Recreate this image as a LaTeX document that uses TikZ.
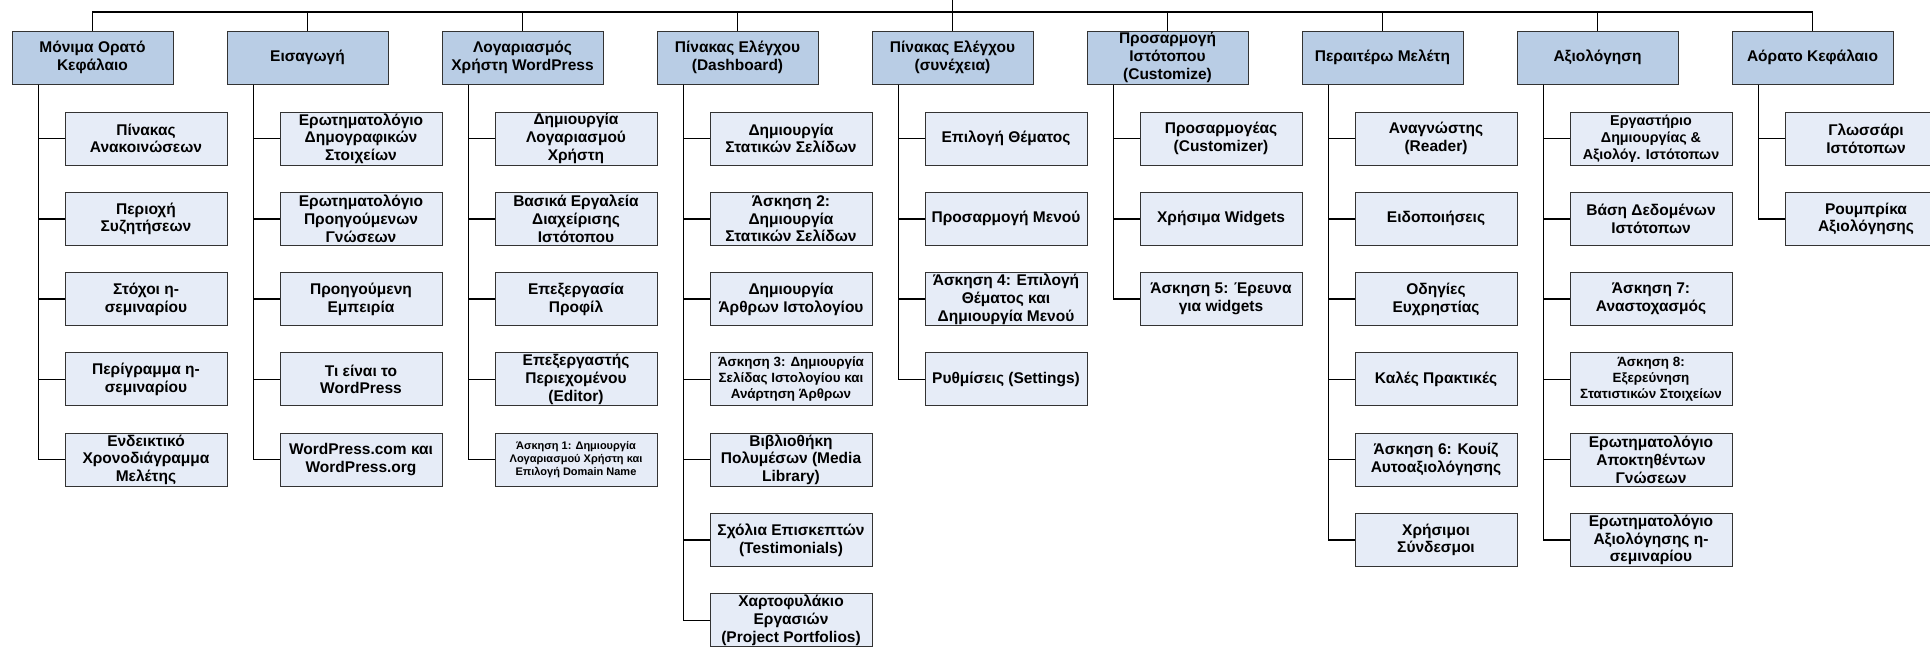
\documentclass[tikz,border=0pt]{standalone}
\usepackage{fontspec}
\setmainfont{Liberation Sans}
\definecolor{headblue}{HTML}{B9CDE5}
\definecolor{itemblue}{HTML}{E6ECF7}
\tikzset{
	chapbox/.style={draw=black!80, line width=1pt, fill=headblue, minimum width=161pt, minimum height=53pt, inner sep=1pt, align=center, font=\fontsize{15.5}{17.7}\selectfont\bfseries},
	topicbox/.style={chapbox, fill=itemblue, minimum width=162pt},
	midtext/.style={font=\fontsize{14.3}{17}\selectfont\bfseries},
	smalltext/.style={font=\fontsize{13.4}{16}\selectfont\bfseries},
	tinytext/.style={font=\fontsize{11}{13.3}\selectfont\bfseries},
	link/.style={line width=1.5pt}
}
\begin{document}
\begin{tikzpicture}[x=1pt,y=-1pt]
	\useasboundingbox (0,0) rectangle (1930,646) ;
	\coordinate (root) at (952.5,0) ;
	\coordinate (bus) at (0,12) ;
	% chapters
	\node [chapbox] (p0) at (92.5,57.5) {Μόνιμα Ορατό\\Κεφάλαιο} ;
	\node [chapbox] (p1) at (307.5,57.5) {Εισαγωγή} ;
	\node [chapbox] (p2) at (522.5,57.5) {Λογαριασμός\\Χρήστη WordPress} ;
	\node [chapbox] (p3) at (737.5,57.5) {Πίνακας Ελέγχου\\(Dashboard)} ;
	\node [chapbox] (p4) at (952.5,57.5) {Πίνακας Ελέγχου\\(συνέχεια)} ;
	\node [chapbox] (p5) at (1167.5,57.5) {Προσαρμογή\\Ιστότοπου\\(Customize)} ;
	\node [chapbox] (p6) at (1382.5,57.5) {Περαιτέρω Μελέτη} ;
	\node [chapbox] (p7) at (1597.5,57.5) {Αξιολόγηση} ;
	\node [chapbox] (p8) at (1812.5,57.5) {Αόρατο Κεφάλαιο} ;
	\draw [link] (root) -- (p4.north) ;
	\draw [link] (p0.north) -- (p0.north |- bus) -- (p8.north |- bus) -- (p8.north) ;
	\draw [link] (p1.north) -- (p1.north |- bus) ;
	\draw [link] (p2.north) -- (p2.north |- bus) ;
	\draw [link] (p3.north) -- (p3.north |- bus) ;
	\draw [link] (p5.north) -- (p5.north |- bus) ;
	\draw [link] (p6.north) -- (p6.north |- bus) ;
	\draw [link] (p7.north) -- (p7.north |- bus) ;
	% topics
	\node [topicbox] (p0a) at (146,138.5) {Πίνακας\\Ανακοινώσεων} ;
	\node [topicbox] (p0b) at (146,218.8) {Περιοχή\\Συζητήσεων} ;
	\node [topicbox] (p0c) at (146,299.1) {Στόχοι η-\\σεμιναρίου} ;
	\node [topicbox] (p0d) at (146,379.4) {Περίγραμμα η-\\σεμιναρίου} ;
	\node [topicbox] (p0e) at (146,459.7) {Ενδεικτικό\\Χρονοδιάγραμμα\\Μελέτης} ;
	\node [topicbox] (p1a) at (361,138.5) {Ερωτηματολόγιο\\Δημογραφικών\\Στοιχείων} ;
	\node [topicbox] (p1b) at (361,218.8) {Ερωτηματολόγιο\\Προηγούμενων\\Γνώσεων} ;
	\node [topicbox] (p1c) at (361,299.1) {Προηγούμενη\\Εμπειρία} ;
	\node [topicbox] (p1d) at (361,379.4) {Τι είναι το\\WordPress} ;
	\node [topicbox] (p1e) at (361,459.7) {WordPress.com και\\WordPress.org} ;
	\node [topicbox] (p2a) at (576,138.5) {Δημιουργία\\Λογαριασμού\\Χρήστη} ;
	\node [topicbox] (p2b) at (576,218.8) {Βασικά Εργαλεία\\Διαχείρισης\\Ιστότοπου} ;
	\node [topicbox] (p2c) at (576,299.1) {Επεξεργασία\\Προφίλ} ;
	\node [topicbox] (p2d) at (576,379.4) {Επεξεργαστής\\Περιεχομένου\\(Editor)} ;
	\node [topicbox,tinytext] (p2e) at (576,459.7) {Άσκηση 1: Δημιουργία\\Λογαριασμού Χρήστη και\\Επιλογή Domain Name} ;
	\node [topicbox] (p3a) at (791,138.5) {Δημιουργία\\Στατικών Σελίδων} ;
	\node [topicbox] (p3b) at (791,218.8) {Άσκηση 2:\\Δημιουργία\\Στατικών Σελίδων} ;
	\node [topicbox] (p3c) at (791,299.1) {Δημιουργία\\Άρθρων Ιστολογίου} ;
	\node [topicbox,smalltext] (p3d) at (791,379.4) {Άσκηση 3: Δημιουργία\\Σελίδας Ιστολογίου και\\Ανάρτηση Άρθρων} ;
	\node [topicbox] (p3e) at (791,459.7) {Βιβλιοθήκη\\Πολυμέσων (Media\\Library)} ;
	\node [topicbox] (p3f) at (791,540) {Σχόλια Επισκεπτών\\(Testimonials)} ;
	\node [topicbox] (p3g) at (791,620.3) {Χαρτοφυλάκιο\\Εργασιών\\(Project Portfolios)} ;
	\node [topicbox] (p4a) at (1006,138.5) {Επιλογή Θέματος} ;
	\node [topicbox] (p4b) at (1006,218.8) {Προσαρμογή Μενού} ;
	\node [topicbox] (p4c) at (1006,299.1) {Άσκηση 4: Επιλογή\\Θέματος και\\Δημιουργία Μενού} ;
	\node [topicbox] (p4d) at (1006,379.4) {Ρυθμίσεις (Settings)} ;
	\node [topicbox] (p5a) at (1221,138.5) {Προσαρμογέας\\(Customizer)} ;
	\node [topicbox] (p5b) at (1221,218.8) {Χρήσιμα Widgets} ;
	\node [topicbox] (p5c) at (1221,299.1) {Άσκηση 5: Έρευνα\\για widgets} ;
	\node [topicbox] (p6a) at (1436,138.5) {Αναγνώστης\\(Reader)} ;
	\node [topicbox] (p6b) at (1436,218.8) {Ειδοποιήσεις} ;
	\node [topicbox] (p6c) at (1436,299.1) {Οδηγίες\\Ευχρηστίας} ;
	\node [topicbox] (p6d) at (1436,379.4) {Καλές Πρακτικές} ;
	\node [topicbox] (p6e) at (1436,459.7) {Άσκηση 6: Κουίζ\\Αυτοαξιολόγησης} ;
	\node [topicbox] (p6f) at (1436,540) {Χρήσιμοι\\Σύνδεσμοι} ;
	\node [topicbox,midtext] (p7a) at (1651,138.5) {Εργαστήριο\\Δημιουργίας \&\\Αξιολόγ. Ιστότοπων} ;
	\node [topicbox] (p7b) at (1651,218.8) {Βάση Δεδομένων\\Ιστότοπων} ;
	\node [topicbox] (p7c) at (1651,299.1) {Άσκηση 7:\\Αναστοχασμός} ;
	\node [topicbox,smalltext] (p7d) at (1651,379.4) {Άσκηση 8:\\Εξερεύνηση\\Στατιστικών Στοιχείων} ;
	\node [topicbox] (p7e) at (1651,459.7) {Ερωτηματολόγιο\\Αποκτηθέντων\\Γνώσεων} ;
	\node [topicbox] (p7f) at (1651,540) {Ερωτηματολόγιο\\Αξιολόγησης η-\\σεμιναρίου} ;
	\node [topicbox] (p8a) at (1866,138.5) {Γλωσσάρι\\Ιστότοπων} ;
	\node [topicbox] (p8b) at (1866,218.8) {Ρουμπρίκα\\Αξιολόγησης} ;
	% trunks
	\draw [link] ([xshift=27pt]p0.south west) |- (p0a.west) ;
	\draw [link] ([xshift=27pt]p0.south west) |- (p0b.west) ;
	\draw [link] ([xshift=27pt]p0.south west) |- (p0c.west) ;
	\draw [link] ([xshift=27pt]p0.south west) |- (p0d.west) ;
	\draw [link] ([xshift=27pt]p0.south west) |- (p0e.west) ;
	\draw [link] ([xshift=27pt]p1.south west) |- (p1a.west) ;
	\draw [link] ([xshift=27pt]p1.south west) |- (p1b.west) ;
	\draw [link] ([xshift=27pt]p1.south west) |- (p1c.west) ;
	\draw [link] ([xshift=27pt]p1.south west) |- (p1d.west) ;
	\draw [link] ([xshift=27pt]p1.south west) |- (p1e.west) ;
	\draw [link] ([xshift=27pt]p2.south west) |- (p2a.west) ;
	\draw [link] ([xshift=27pt]p2.south west) |- (p2b.west) ;
	\draw [link] ([xshift=27pt]p2.south west) |- (p2c.west) ;
	\draw [link] ([xshift=27pt]p2.south west) |- (p2d.west) ;
	\draw [link] ([xshift=27pt]p2.south west) |- (p2e.west) ;
	\draw [link] ([xshift=27pt]p3.south west) |- (p3a.west) ;
	\draw [link] ([xshift=27pt]p3.south west) |- (p3b.west) ;
	\draw [link] ([xshift=27pt]p3.south west) |- (p3c.west) ;
	\draw [link] ([xshift=27pt]p3.south west) |- (p3d.west) ;
	\draw [link] ([xshift=27pt]p3.south west) |- (p3e.west) ;
	\draw [link] ([xshift=27pt]p3.south west) |- (p3f.west) ;
	\draw [link] ([xshift=27pt]p3.south west) |- (p3g.west) ;
	\draw [link] ([xshift=27pt]p4.south west) |- (p4a.west) ;
	\draw [link] ([xshift=27pt]p4.south west) |- (p4b.west) ;
	\draw [link] ([xshift=27pt]p4.south west) |- (p4c.west) ;
	\draw [link] ([xshift=27pt]p4.south west) |- (p4d.west) ;
	\draw [link] ([xshift=27pt]p5.south west) |- (p5a.west) ;
	\draw [link] ([xshift=27pt]p5.south west) |- (p5b.west) ;
	\draw [link] ([xshift=27pt]p5.south west) |- (p5c.west) ;
	\draw [link] ([xshift=27pt]p6.south west) |- (p6a.west) ;
	\draw [link] ([xshift=27pt]p6.south west) |- (p6b.west) ;
	\draw [link] ([xshift=27pt]p6.south west) |- (p6c.west) ;
	\draw [link] ([xshift=27pt]p6.south west) |- (p6d.west) ;
	\draw [link] ([xshift=27pt]p6.south west) |- (p6e.west) ;
	\draw [link] ([xshift=27pt]p6.south west) |- (p6f.west) ;
	\draw [link] ([xshift=27pt]p7.south west) |- (p7a.west) ;
	\draw [link] ([xshift=27pt]p7.south west) |- (p7b.west) ;
	\draw [link] ([xshift=27pt]p7.south west) |- (p7c.west) ;
	\draw [link] ([xshift=27pt]p7.south west) |- (p7d.west) ;
	\draw [link] ([xshift=27pt]p7.south west) |- (p7e.west) ;
	\draw [link] ([xshift=27pt]p7.south west) |- (p7f.west) ;
	\draw [link] ([xshift=27pt]p8.south west) |- (p8a.west) ;
	\draw [link] ([xshift=27pt]p8.south west) |- (p8b.west) ;
\end{tikzpicture}
\end{document}
